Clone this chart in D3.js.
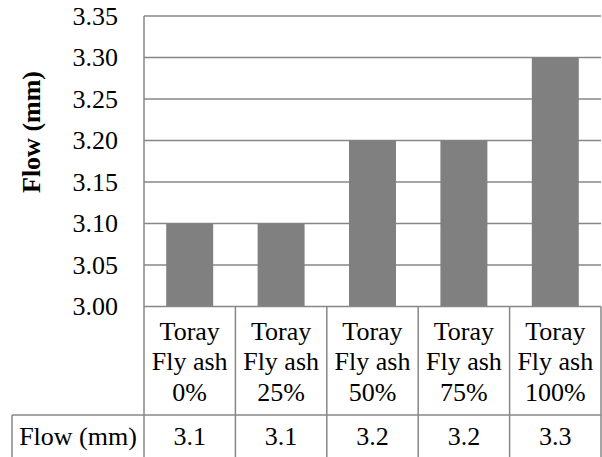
<!DOCTYPE html>
<html>
 <head>
  <meta charset="utf-8">
  <script src="https://d3js.org/d3.v7.min.js"></script>
  <style type="text/css">
    body{
    margin: 0;
    background: #ffffff;
    }
  </style>
 </head>
<body>
  <div id="chart"></div>

  <script type="text/javascript">
    // values
    var categories = ["0%", "25%", "50%", "75%", "100%"];
    var catLines = [
      ["Toray", "Fly ash", "0%"],
      ["Toray", "Fly ash", "25%"],
      ["Toray", "Fly ash", "50%"],
      ["Toray", "Fly ash", "75%"],
      ["Toray", "Fly ash", "100%"]
    ];
    var flowValues = [3.1, 3.1, 3.2, 3.2, 3.3];
    var yTicks = [3.00, 3.05, 3.10, 3.15, 3.20, 3.25, 3.30, 3.35];
    var seriesName = "Flow (mm)";
    var yTitle = "Flow (mm)";

    function draw() {
      var W = 602, H = 457;
      var pLeft = 144, pRight = 601, pTop = 16, pBottom = 306.5;
      var rowSplit = 415, tableLeft = 12;
      var lineCol = "#878787";
      var font = "Liberation Serif";

      var svg = d3.select("#chart").append("svg")
        .attr("width", W).attr("height", H)
        .attr("font-family", font);

      var y = d3.scaleLinear().domain([3.0, 3.35]).range([pBottom, pTop]);
      var x = d3.scaleBand().domain(categories).range([pLeft, pRight])
        .paddingInner(0.486).paddingOuter(0.243);
      // table cells share the category band, no padding
      var cell = d3.scaleBand().domain(categories).range([pLeft, pRight]);

      // gridlines
      svg.append("g").selectAll("line")
        .data(yTicks.slice(1))
        .enter().append("line")
          .attr("x1", pLeft).attr("x2", pRight)
          .attr("y1", function (d) { return y(d); })
          .attr("y2", function (d) { return y(d); })
          .style("stroke", lineCol).style("stroke-width", 1.5);

      // y axis labels
      var yAxis = d3.axisLeft(y).tickValues(yTicks).tickFormat(d3.format(".2f"))
        .tickSize(0).tickPadding(26);
      var ga = svg.append("g").attr("transform", "translate(" + pLeft + ",0)").call(yAxis);
      ga.attr("font-family", font).attr("font-size", 26);
      ga.select(".domain").remove();
      ga.selectAll("text").attr("fill", "#000");

      // bars
      svg.append("g").selectAll("rect")
        .data(flowValues)
        .enter().append("rect")
          .attr("x", function (d, i) { return x(categories[i]); })
          .attr("width", x.bandwidth())
          .attr("y", function (d) { return y(d); })
          .attr("height", function (d) { return y(3.0) - y(d); })
          .style("fill", "#808080");

      // y title
      svg.append("text")
        .attr("transform", "translate(40,132) rotate(-90)")
        .attr("text-anchor", "middle")
        .attr("font-size", 26).attr("font-weight", "bold")
        .text(yTitle);

      // data table
      var tbl = svg.append("g").attr("font-size", 26);
      tbl.append("line").attr("x1", pLeft).attr("x2", pRight).attr("y1", pBottom).attr("y2", pBottom)
        .style("stroke", lineCol).style("stroke-width", 1.5);
      tbl.append("line").attr("x1", tableLeft).attr("x2", pRight).attr("y1", rowSplit).attr("y2", rowSplit)
        .style("stroke", lineCol).style("stroke-width", 1.5);
      tbl.append("line").attr("x1", tableLeft).attr("x2", tableLeft).attr("y1", rowSplit).attr("y2", H)
        .style("stroke", lineCol).style("stroke-width", 1.5);
      var edges = categories.map(function (c) { return cell(c); }).concat([pRight]);
      tbl.selectAll(".vline").data(edges).enter().append("line")
        .attr("class", "vline")
        .attr("x1", function (d) { return d; }).attr("x2", function (d) { return d; })
        .attr("y1", function (d, i) { return i === 0 ? pTop : pBottom; })
        .attr("y2", H)
        .style("stroke", lineCol).style("stroke-width", 1.5);

      // category header cells
      catLines.forEach(function (lines, i) {
        var cx = cell(categories[i]) + cell.bandwidth() / 2;
        lines.forEach(function (t, j) {
          tbl.append("text")
            .attr("x", cx).attr("y", 340 + j * 30.3)
            .attr("text-anchor", "middle")
            .text(t);
        });
      });

      // value row
      tbl.append("text")
        .attr("x", (tableLeft + pLeft) / 2).attr("y", 445)
        .attr("text-anchor", "middle")
        .text(seriesName);
      tbl.selectAll(".val").data(flowValues).enter().append("text")
        .attr("class", "val")
        .attr("x", function (d, i) { return cell(categories[i]) + cell.bandwidth() / 2; })
        .attr("y", 445)
        .attr("text-anchor", "middle")
        .text(function (d) { return d3.format(".1f")(d); });
    }

    draw();
  </script>
</body>
</html>
